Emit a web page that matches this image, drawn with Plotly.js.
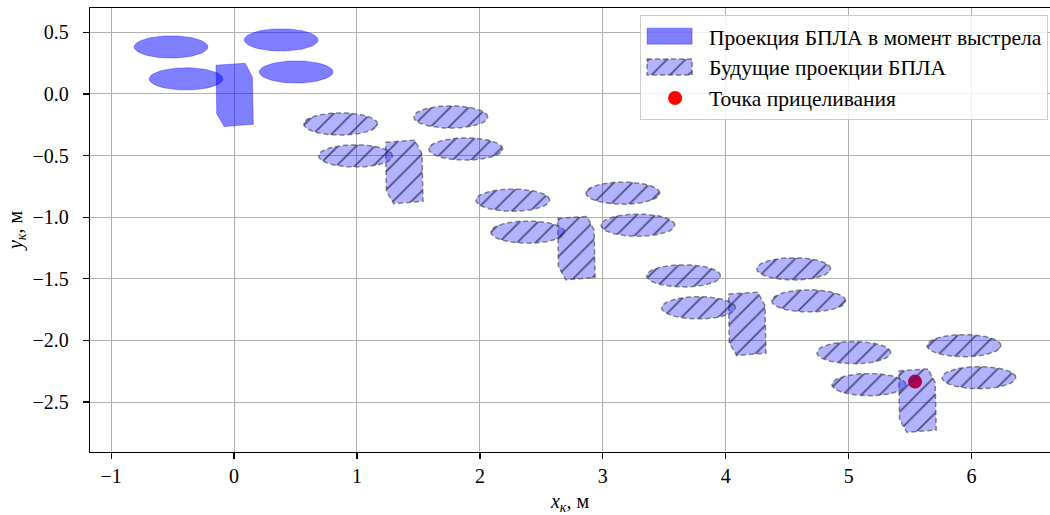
<!DOCTYPE html>
<html>
<head>
<meta charset="utf-8">
<script src="https://cdn.plot.ly/plotly-3.0.1.min.js"></script>
<style>html,body{margin:0;padding:0;background:#fff;overflow:hidden;}#chart{width:1050px;height:515px;}</style>
</head>
<body>
<div id="chart"></div>
<script>
// Body (fuselage) polygon of the UAV at shot moment, data units (m)
const bodyX = [-0.147, 0.090, 0.149, 0.157, -0.081, -0.141];
const bodyY = [0.233, 0.249, 0.138, -0.246, -0.265, -0.160];
// Rotor ellipses: centres and semi-axes
const rotorX = [-0.513, 0.383, -0.391, 0.505];
const rotorY = [0.381, 0.438, 0.122, 0.178];
const rotorA = [0.30, 0.30, 0.30, 0.30];
const rotorB = [0.09, 0.09, 0.09, 0.09];
// Offsets of future projections
const futureDX = [1.38, 2.78, 4.17, 5.555];
const futureDY = [-0.625, -1.243, -1.857, -2.48];
// Aim point
const aimX = [5.54];
const aimY = [-2.334];
// Ticks
const xTicks = [-1, 0, 1, 2, 3, 4, 5, 6];
const yTicks = [0.5, 0.0, -0.5, -1.0, -1.5, -2.0, -2.5];

const names = ['Проекция БПЛА в момент выстрела', 'Будущие проекции БПЛА', 'Точка прицеливания'];

function ellipse(cx, cy, a, b) {
  const xs = [], ys = [];
  const n = 72;
  for (let i = 0; i <= n; i++) {
    const t = 2 * Math.PI * i / n;
    xs.push(cx + a * Math.cos(t));
    ys.push(cy + b * Math.sin(t));
  }
  return [xs, ys];
}

const traces = [];
function addDrone(dx, dy, style, first) {
  const bx = bodyX.map(v => v + dx).concat([bodyX[0] + dx]);
  const by = bodyY.map(v => v + dy).concat([bodyY[0] + dy]);
  const shapes = [[bx, by]];
  for (let i = 0; i < rotorX.length; i++) {
    shapes.push(ellipse(rotorX[i] + dx, rotorY[i] + dy, rotorA[i], rotorB[i]));
  }
  shapes.forEach((s, k) => {
    const tr = Object.assign({
      type: 'scatter', mode: 'lines', x: s[0], y: s[1], fill: 'toself',
      hoverinfo: 'skip', showlegend: first && k === 0
    }, JSON.parse(JSON.stringify(style)));
    traces.push(tr);
  });
}

const solidStyle = {
  name: names[0], legendgroup: 'solid', legendrank: 1,
  fillcolor: 'rgba(0,0,255,0.5)',
  line: {color: 'rgba(0,0,255,0.4)', width: 0.8}
};
const hatchStyle = {
  name: names[1], legendgroup: 'future', legendrank: 2,
  fillcolor: 'rgba(0,0,255,0.3)',
  fillpattern: {shape: '/', bgcolor: 'rgba(0,0,255,0.3)', fgcolor: 'rgb(50,50,90)', fgopacity: 0.8, size: 13, solidity: 0.13},
  line: {color: 'rgba(70,70,70,0.65)', width: 1.5, dash: '5px,3px'}
};

addDrone(0, 0, solidStyle, true);
traces.push({
  type: 'scatter', mode: 'markers', x: aimX, y: aimY, name: names[2],
  legendrank: 3, marker: {color: 'red', size: 14}, hoverinfo: 'skip'
});
futureDX.forEach((dx, i) => addDrone(dx, futureDY[i], hatchStyle, i === 0));

const FAM = 'Liberation Serif';
const mkFont = (s) => ({family: FAM, size: s, color: '#000'});
const layout = {
  width: 1050, height: 515,
  margin: {l: 90, r: 0, t: 8, b: 63},
  paper_bgcolor: '#fff', plot_bgcolor: '#fff',
  font: mkFont(20),
  showlegend: true,
  legend: {
    x: 0.998, y: 0.985, xanchor: 'right', yanchor: 'top',
    bgcolor: 'rgba(255,255,255,0.8)', bordercolor: '#cccccc', borderwidth: 1,
    font: mkFont(21.5),
    tracegroupgap: 0, itemwidth: 58
  },
  xaxis: {
    range: [-1.172, 6.638], tickvals: xTicks, ticktext: xTicks.map(v => v < 0 ? '\u2212' + Math.abs(v) : String(v)),
    showgrid: true, gridcolor: '#b0b0b0', gridwidth: 1, zeroline: false,
    showline: true, linecolor: '#000', linewidth: 1.3, mirror: true,
    ticks: 'outside', ticklen: 6, tickcolor: '#000', tickwidth: 1.2,
    tickfont: mkFont(20),
    title: {text: '<i>x<sub>к</sub></i>, м', font: mkFont(20), standoff: 12}
  },
  yaxis: {
    range: [-2.905, 0.697], tickvals: yTicks, ticktext: yTicks.map(v => (v < 0 ? '\u2212' : '') + Math.abs(v).toFixed(1)),
    showgrid: true, gridcolor: '#b0b0b0', gridwidth: 1, zeroline: false,
    showline: true, linecolor: '#000', linewidth: 1.3, mirror: false,
    ticks: 'outside', ticklen: 6, tickcolor: '#000', tickwidth: 1.2,
    ticklabelstandoff: 10,
    tickfont: mkFont(20),
    title: {text: '<i>y<sub>к</sub></i>, м', font: mkFont(20), standoff: 4}
  }
};

Plotly.newPlot('chart', traces, layout, {displayModeBar: false, staticPlot: true}).then(gd => {
  // enlarge legend fill patches to matplotlib-like rectangles
  gd.querySelectorAll('.legend .legendfill path').forEach(p => {
    p.setAttribute('d', 'M6,-8h45v16h-45z');
  });
  gd.querySelectorAll('.legend .legendlines path').forEach(p => {
    p.setAttribute('d', 'M6,-8h45v16h-45z');
    p.style.fill = 'none';
  });
});
</script>
</body>
</html>
